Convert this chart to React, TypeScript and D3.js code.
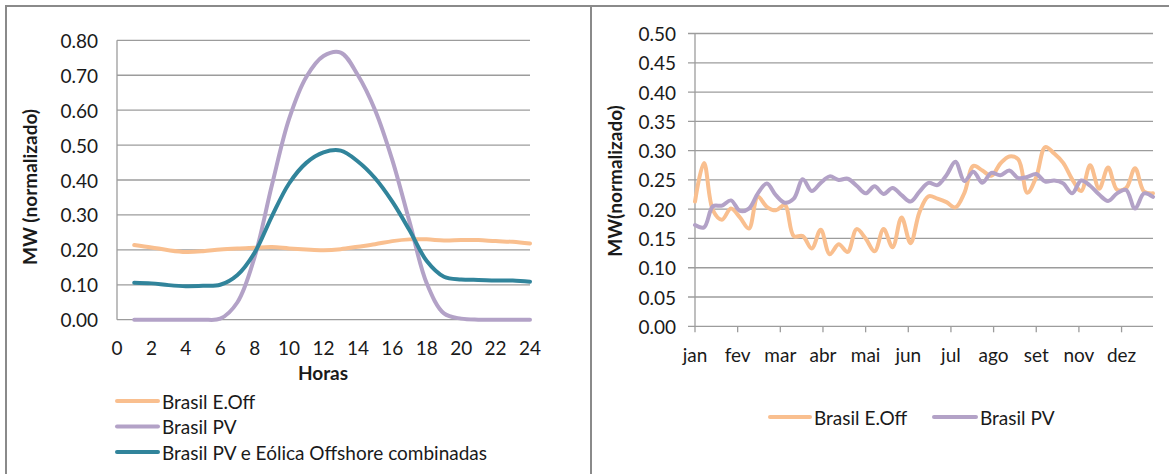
import React from "react";
import * as d3 from "d3";

// ---- Hourly profile (left panel) ----
const hours = [1, 2, 3, 4, 5, 6, 7, 8, 9, 10, 11, 12, 13, 14, 15, 16, 17, 18, 19, 20, 21, 22, 23, 24];
const hourlyEOff = [0.214, 0.207, 0.199, 0.194, 0.196, 0.201, 0.204, 0.206, 0.208, 0.204, 0.201, 0.199, 0.202, 0.209, 0.216, 0.225, 0.23, 0.23, 0.227, 0.228, 0.228, 0.225, 0.223, 0.218];
const hourlyPV = [0, 0, 0, 0, 0, 0.003, 0.05, 0.18, 0.385, 0.575, 0.695, 0.755, 0.765, 0.7, 0.6, 0.457, 0.28, 0.104, 0.018, 0.003, 0, 0, 0, 0];
const hourlyCombined = [0.106, 0.104, 0.099, 0.096, 0.097, 0.1, 0.128, 0.192, 0.296, 0.39, 0.449, 0.479, 0.484, 0.453, 0.405, 0.338, 0.256, 0.168, 0.123, 0.115, 0.114, 0.112, 0.112, 0.109];
const hourTicks = [0, 2, 4, 6, 8, 10, 12, 14, 16, 18, 20, 22, 24];
const hourlyYTicks = [0, 0.1, 0.2, 0.3, 0.4, 0.5, 0.6, 0.7, 0.8];

// ---- Weekly profile over the year (right panel) ----
const weeks = d3.range(52);
const weeklyEOff = [
  0.213, 0.279, 0.198, 0.182, 0.201, 0.186, 0.167, 0.221, 0.204, 0.198,
  0.207, 0.154, 0.154, 0.133, 0.165, 0.123, 0.14, 0.127, 0.166, 0.15,
  0.128, 0.166, 0.135, 0.186, 0.142, 0.195, 0.222, 0.218, 0.212, 0.203,
  0.228, 0.274, 0.266, 0.257, 0.278, 0.29, 0.285, 0.228, 0.255, 0.306,
  0.295, 0.279, 0.251, 0.231, 0.275, 0.235, 0.271, 0.233, 0.236, 0.27,
  0.23, 0.227,
];
const weeklyPV = [
  0.173, 0.169, 0.205, 0.206, 0.215, 0.197, 0.201, 0.227, 0.244, 0.224,
  0.211, 0.218, 0.251, 0.231, 0.245, 0.256, 0.25, 0.252, 0.24, 0.227,
  0.239, 0.226, 0.236, 0.224, 0.213, 0.23, 0.245, 0.241, 0.258, 0.281,
  0.248, 0.264, 0.245, 0.262, 0.258, 0.266, 0.253, 0.255, 0.26, 0.247,
  0.249, 0.244, 0.227, 0.249, 0.24, 0.225, 0.214, 0.227, 0.233, 0.201,
  0.227, 0.221,
];
const monthLabels = ["jan", "fev", "mar", "abr", "mai", "jun", "jul", "ago", "set", "nov", "dez"];
const WEEKS_PER_MONTH_TICK = 4.75;
const weeklyYTicks = [0, 0.05, 0.1, 0.15, 0.2, 0.25, 0.3, 0.35, 0.4, 0.45, 0.5];

// ---- Styling ----
const C_EOFF = "#F9BF8F";
const C_PV = "#B3A2C7";
const C_COMB = "#31849B";
const GRID = "#9c9c9c";
const FRAME = "#8a8a8a";
const FONT = "Lato, 'Open Sans', sans-serif";
const FS = 19;
const TEXT = "#1a1a1a";

export default function App() {
  // left panel scales
  const xH = d3.scaleLinear().domain([0, 24]).range([117, 530]);
  const yH = d3.scaleLinear().domain([0, 0.8]).range([319.7, 40.3]);
  const lineH = (vals: number[]) =>
    d3
      .line<number>()
      .x((_, i) => xH(hours[i]))
      .y((d) => yH(d))
      .curve(d3.curveCatmullRom.alpha(0.5))(vals) as string;

  // right panel scales
  const xW = d3.scaleLinear().domain([0, 51]).range([695, 1153]);
  const yW = d3.scaleLinear().domain([0, 0.5]).range([326.3, 33.5]);
  const lineW = (vals: number[]) =>
    d3
      .line<number>()
      .x((_, i) => xW(weeks[i]))
      .y((d) => yW(d))
      .curve(d3.curveCatmullRom.alpha(0.5))(vals) as string;

  const leftLegend = [
    { label: "Brasil E.Off", color: C_EOFF },
    { label: "Brasil PV", color: C_PV },
    { label: "Brasil PV e Eólica Offshore combinadas", color: C_COMB },
  ];

  return (
    <svg
      width={1169}
      height={474}
      style={{ position: "absolute", left: 0, top: 0, background: "#fff" }}
      fontFamily={FONT}
    >
      <rect x={0} y={0} width={1169} height={474} fill="#fff" />
      {/* panel frames */}
      <line x1={5} x2={1169} y1={6} y2={6} stroke={FRAME} strokeWidth={2} />
      <line x1={6} x2={6} y1={5} y2={474} stroke={FRAME} strokeWidth={2} />
      <line x1={591} x2={591} y1={5} y2={474} stroke={FRAME} strokeWidth={2} />

      {/* ===== Left panel: hourly ===== */}
      <g>
        {hourlyYTicks.map((t) => (
          <g key={"hy" + t}>
            <line x1={xH(0)} x2={xH(24)} y1={yH(t)} y2={yH(t)} stroke={GRID} strokeWidth={1.3} />
            <text x={98} y={yH(t)} textAnchor="end" dominantBaseline="central" fontSize={FS} fill={TEXT}>
              {t.toFixed(2)}
            </text>
          </g>
        ))}
        <line x1={xH(0)} x2={xH(0)} y1={yH(0.8)} y2={yH(0)} stroke={GRID} strokeWidth={1.3} />
        {hourTicks.map((t) => (
          <text key={"hx" + t} x={xH(t)} y={347} textAnchor="middle" dominantBaseline="central" fontSize={FS} fill={TEXT}>
            {t}
          </text>
        ))}
        <text x={323} y={372} textAnchor="middle" dominantBaseline="central" fontSize={FS} fontWeight="bold" fill={TEXT}>
          Horas
        </text>
        <text
          transform={`translate(29,187) rotate(-90)`}
          textAnchor="middle"
          dominantBaseline="central"
          fontSize={FS}
          fontWeight="bold"
          fill={TEXT}
        >
          MW (normalizado)
        </text>

        <path d={lineH(hourlyEOff)} fill="none" stroke={C_EOFF} strokeWidth={4} strokeLinecap="round" />
        <path d={lineH(hourlyPV)} fill="none" stroke={C_PV} strokeWidth={4} strokeLinecap="round" />
        <path d={lineH(hourlyCombined)} fill="none" stroke={C_COMB} strokeWidth={4} strokeLinecap="round" />

        {leftLegend.map((l, i) => (
          <g key={l.label} transform={`translate(0,${401 + i * 25.5})`}>
            <line x1={117} x2={158} y1={0} y2={0} stroke={l.color} strokeWidth={4} strokeLinecap="round" />
            <text x={162} y={0} dominantBaseline="central" fontSize={FS} fill={TEXT}>
              {l.label}
            </text>
          </g>
        ))}
      </g>

      {/* ===== Right panel: weekly ===== */}
      <g>
        {weeklyYTicks.map((t) => (
          <g key={"wy" + t}>
            <line x1={688} x2={xW(51)} y1={yW(t)} y2={yW(t)} stroke={GRID} strokeWidth={1.3} />
            <text x={676} y={yW(t)} textAnchor="end" dominantBaseline="central" fontSize={FS} fill={TEXT}>
              {t.toFixed(2)}
            </text>
          </g>
        ))}
        <line x1={xW(0)} x2={xW(0)} y1={yW(0.5)} y2={yW(0)} stroke={GRID} strokeWidth={1.3} />
        {monthLabels.map((m, k) => {
          const x = xW(k * WEEKS_PER_MONTH_TICK);
          return (
            <g key={m}>
              <line x1={x} x2={x} y1={yW(0)} y2={yW(0) + 6} stroke={GRID} strokeWidth={1.3} />
              <text x={x} y={354} textAnchor="middle" dominantBaseline="central" fontSize={FS} fill={TEXT}>
                {m}
              </text>
            </g>
          );
        })}
        <text
          transform={`translate(614,181) rotate(-90)`}
          textAnchor="middle"
          dominantBaseline="central"
          fontSize={FS}
          fontWeight="bold"
          fill={TEXT}
        >
          MW(normalizado)
        </text>

        <path d={lineW(weeklyEOff)} fill="none" stroke={C_EOFF} strokeWidth={4} strokeLinecap="round" strokeLinejoin="round" />
        <path d={lineW(weeklyPV)} fill="none" stroke={C_PV} strokeWidth={4} strokeLinecap="round" strokeLinejoin="round" />

        <g transform="translate(0,417)">
          <line x1={770} x2={810} y1={0} y2={0} stroke={C_EOFF} strokeWidth={4} strokeLinecap="round" />
          <text x={814} y={0} dominantBaseline="central" fontSize={FS} fill={TEXT}>
            Brasil E.Off
          </text>
          <line x1={934} x2={976} y1={0} y2={0} stroke={C_PV} strokeWidth={4} strokeLinecap="round" />
          <text x={980} y={0} dominantBaseline="central" fontSize={FS} fill={TEXT}>
            Brasil PV
          </text>
        </g>
      </g>
    </svg>
  );
}
